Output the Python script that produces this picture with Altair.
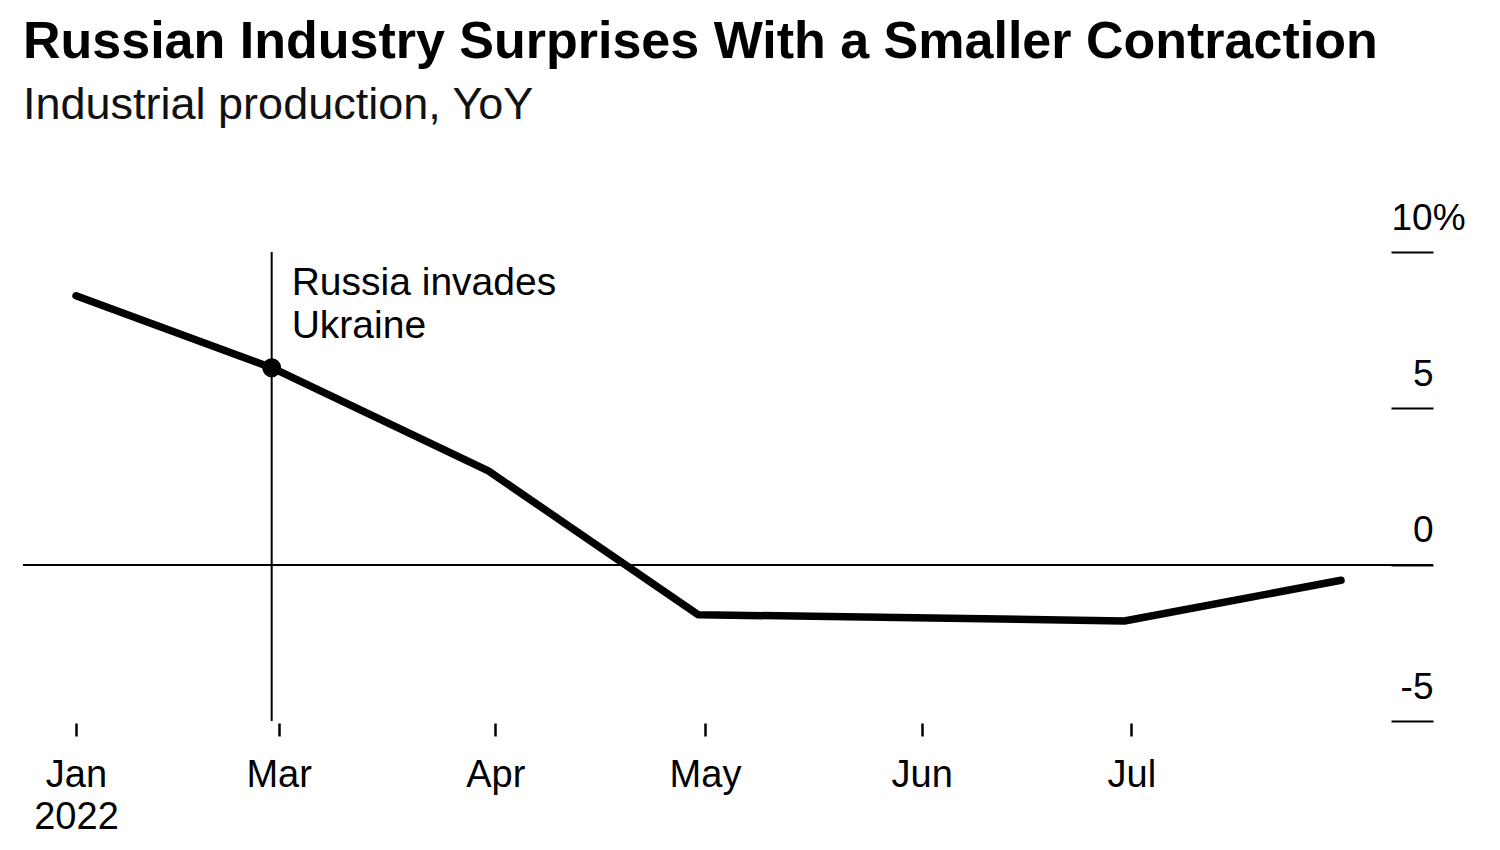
import altair as alt
import pandas as pd

FONT = "Liberation Sans"

# ---- data ----
dates = ["2022-01-31", "2022-02-28", "2022-03-31", "2022-04-30",
         "2022-05-31", "2022-06-30", "2022-07-31"]
values = [8.6, 6.3, 3.0, -1.6, -1.7, -1.8, -0.5]

event_date = ["2022-02-28"]
event_value = [6.3]
event_label = ["Russia invades\nUkraine"]

y_ticks = [-5, 0, 5, 10]

df = pd.DataFrame({"date": dates, "value": values})
ev = pd.DataFrame({"date": event_date, "value": event_value, "label": event_label})

x_domain = [alt.DateTime(year=2022, month=1, date=23, hours=10, utc=True),
            alt.DateTime(year=2022, month=8, date=13, hours=4, utc=True)]
x_ticks = [alt.DateTime(year=2022, month=1, date=31, utc=True),
           alt.DateTime(year=2022, month=3, date=1, utc=True),
           alt.DateTime(year=2022, month=4, date=1, utc=True),
           alt.DateTime(year=2022, month=5, date=1, utc=True),
           alt.DateTime(year=2022, month=6, date=1, utc=True),
           alt.DateTime(year=2022, month=7, date=1, utc=True)]

x_enc = alt.X(
    "date:T",
    scale=alt.Scale(type="utc", domain=x_domain),
    axis=alt.Axis(
        values=x_ticks,
        labelExpr="utcmonth(datum.value) == 0 ? ['Jan', '2022'] : utcFormat(datum.value, '%b')",
        domain=False, grid=False,
        tickSize=13, tickWidth=2.5, tickColor="black", offset=2,
        labelFont=FONT, labelFontSize=38, labelColor="black",
        labelPadding=20, labelLineHeight=42, labelFlush=False,
        labelOverlap=False, labelBound=False, title=None,
    ),
)

y_enc = alt.Y(
    "value:Q",
    scale=alt.Scale(domain=[-5, 10], nice=False, zero=False),
    axis=alt.Axis(
        orient="right", values=y_ticks, offset=-42, tickSize=42,
        tickWidth=2, tickColor="black", domain=False, grid=False,
        labelFont=FONT, labelFontSize=37, labelColor="black",
        labelAlign={"condition": {"test": "datum.value == 10", "value": "left"}, "value": "right"},
        labelPadding={"condition": {"test": "datum.value == 10", "value": -42}, "value": 0},
        labelBaseline="alphabetic", labelOffset=-23,
        labelExpr="datum.value == 10 ? '10%' : '' + datum.value",
        labelFlush=False, labelOverlap=False, title=None,
    ),
)

line = alt.Chart(df).mark_line(
    color="black", strokeWidth=7.5, strokeCap="round", strokeJoin="round"
).encode(x=x_enc, y=y_enc)

zero = alt.Chart(df).mark_rule(color="black", strokeWidth=1.5).encode(y=alt.datum(0))

event_rule = alt.Chart(ev).mark_rule(color="black", strokeWidth=2).encode(x="date:T")

event_point = alt.Chart(ev).mark_point(
    filled=True, color="black", size=360, opacity=1
).encode(x="date:T", y="value:Q")

event_text = alt.Chart(ev).mark_text(
    align="left", baseline="top", dx=20, dy=12, lineBreak="\n", lineHeight=43,
    font=FONT, fontSize=39, color="black"
).encode(x="date:T", y=alt.datum(10), text="label:N")

chart = alt.layer(zero, event_rule, line, event_point, event_text).properties(
    width=1410, height=469,
    background="white",
    title=alt.TitleParams(
        text="Russian Industry Surprises With a Smaller Contraction",
        subtitle="Industrial production, YoY",
        anchor="start", frame="group", offset=70,
        font=FONT, fontSize=52, fontWeight="bold", color="black",
        subtitleFont=FONT, subtitleFontSize=45, subtitleColor="#111111",
        subtitlePadding=14,
    ),
    padding={"left": 14, "top": 8, "right": 10, "bottom": 5},
).configure_view(stroke=None, strokeWidth=0)

chart.save("out.html", embed_options={"renderer": "svg", "actions": False})
